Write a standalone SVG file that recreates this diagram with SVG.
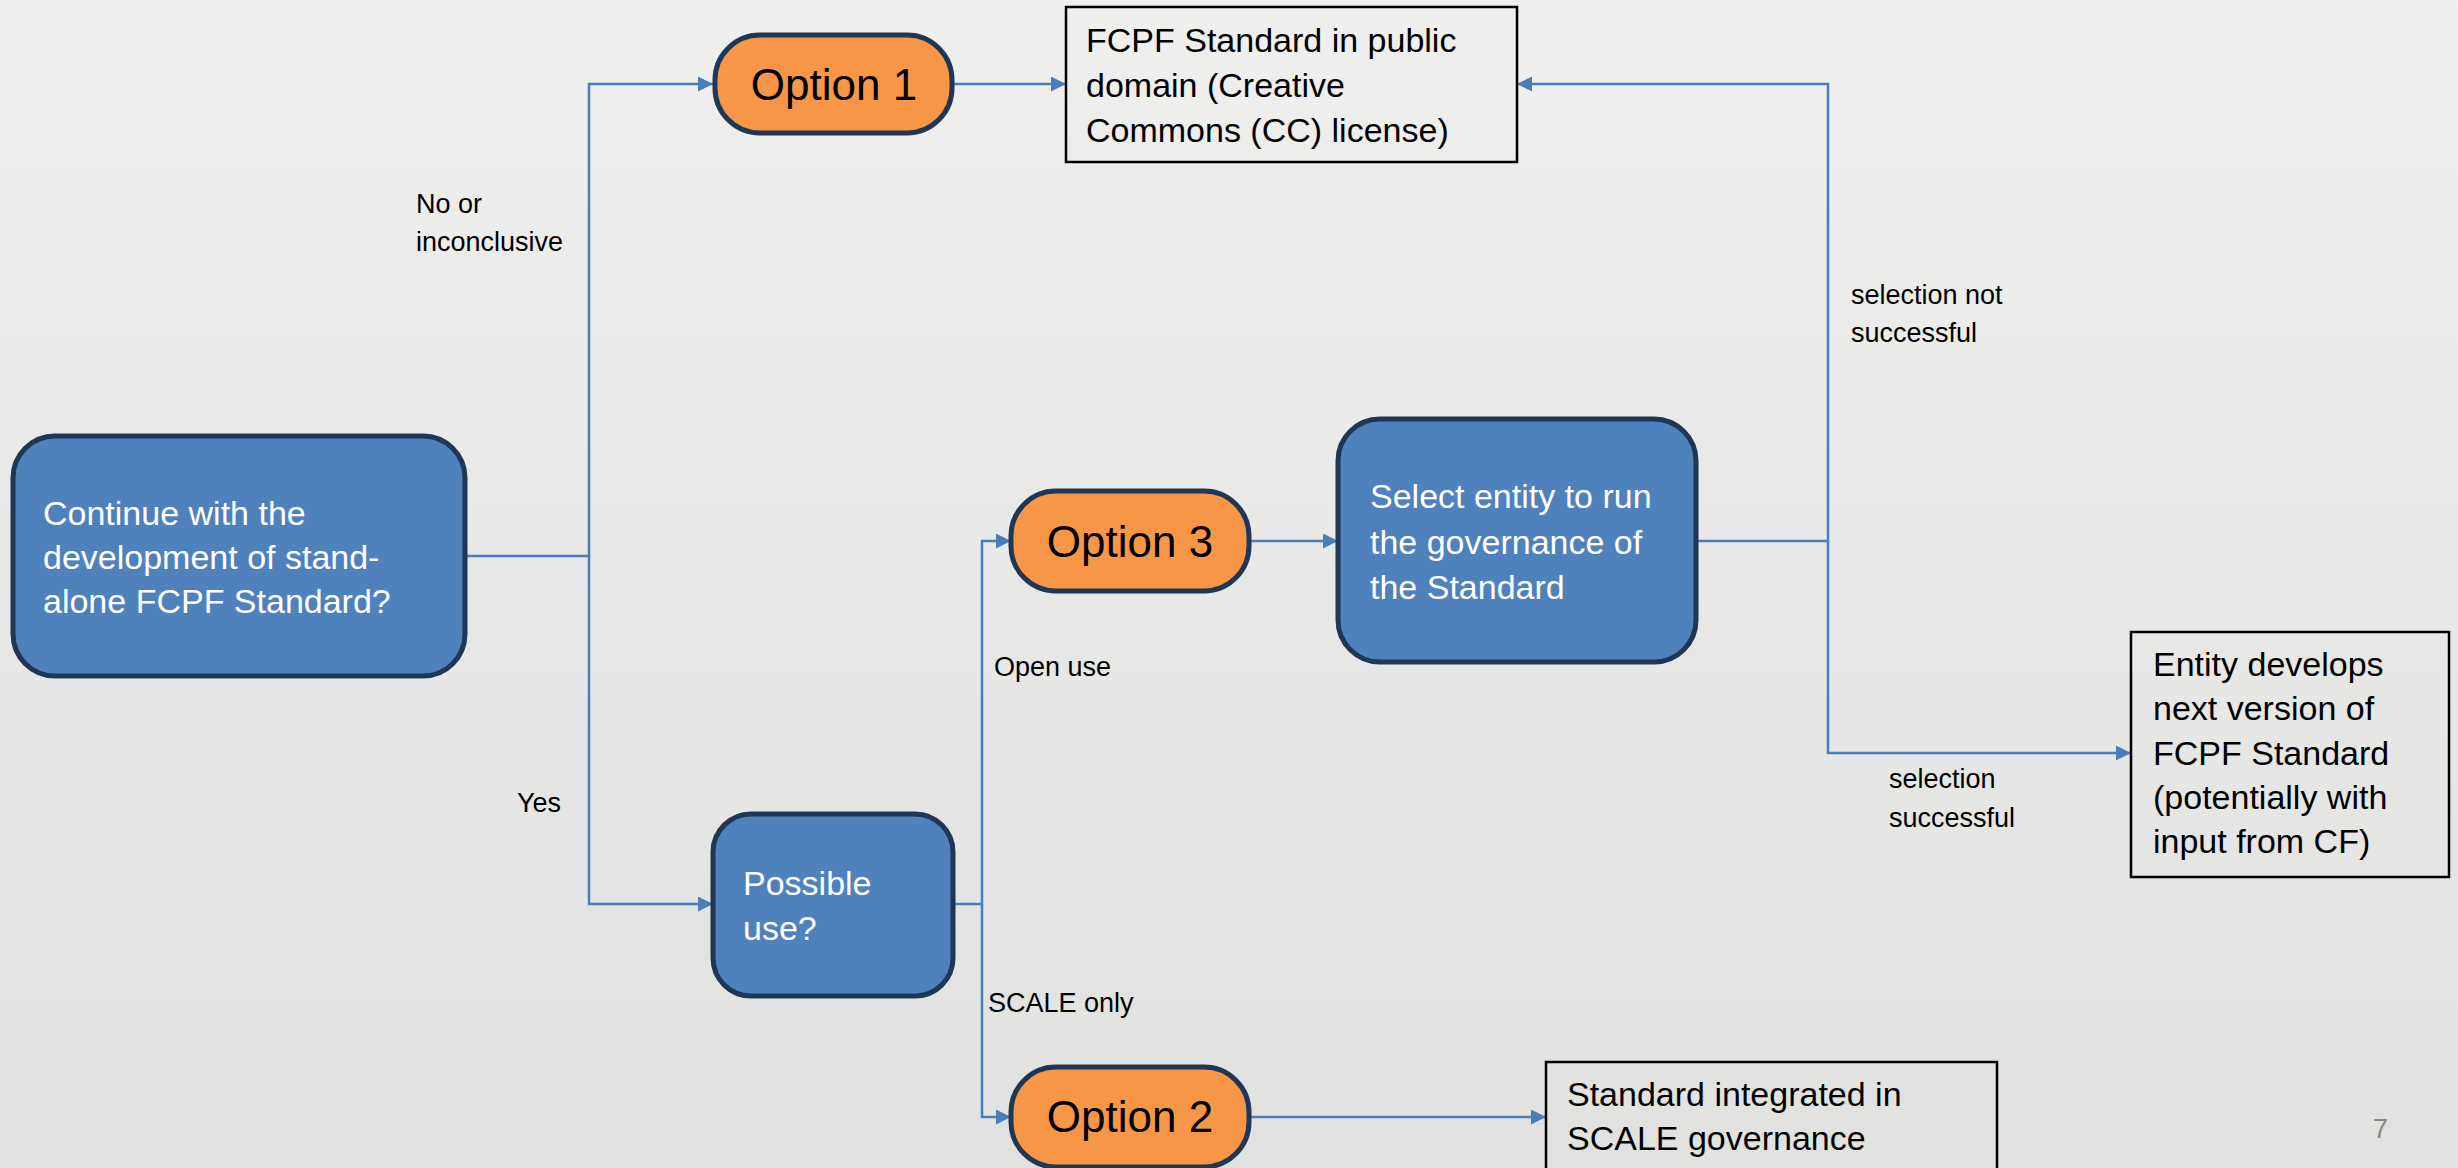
<svg xmlns="http://www.w3.org/2000/svg" width="2458" height="1168" viewBox="0 0 2458 1168">
<defs>
<linearGradient id="bg" x1="0" y1="0" x2="0" y2="1">
<stop offset="0" stop-color="#efefee"/>
<stop offset="0.5" stop-color="#e8e8e7"/>
<stop offset="1" stop-color="#e1e2e0"/>
</linearGradient>
<marker id="arr" markerUnits="userSpaceOnUse" markerWidth="16" markerHeight="16" refX="15" refY="7.5" orient="auto">
<path d="M0,0 L15,7.5 L0,15 z" fill="#4a7ebb"/>
</marker>
<style>
.blue{fill:#4f81bd;stroke:#1f3654;stroke-width:5}
.orange{fill:#f79646;stroke:#1f3654;stroke-width:5}
.box{fill:none;stroke:#000;stroke-width:2.5}
.conn{fill:none;stroke:#4a7ebb;stroke-width:2.5}
.wt{font-family:"Liberation Sans",Arial,sans-serif;font-size:34px;fill:#fff}
.bt{font-family:"Liberation Sans",Arial,sans-serif;font-size:34px;fill:#000}
.ot{font-family:"Liberation Sans",Arial,sans-serif;font-size:44px;fill:#000;text-anchor:middle}
.lb{font-family:"Liberation Sans",Arial,sans-serif;font-size:27px;fill:#000}
</style>
</defs>
<rect x="0" y="0" width="2458" height="1168" fill="url(#bg)"/>
<g id="connectors">
<path class="conn" d="M465,556 H589 V84 H713" marker-end="url(#arr)"/>
<path class="conn" d="M589,556 V904 H713" marker-end="url(#arr)"/>
<path class="conn" d="M953,84 H1066" marker-end="url(#arr)"/>
<path class="conn" d="M953,904 H982 V541 H1011" marker-end="url(#arr)"/>
<path class="conn" d="M982,904 V1117 H1011" marker-end="url(#arr)"/>
<path class="conn" d="M1249,541 H1338" marker-end="url(#arr)"/>
<path class="conn" d="M1696,541 H1828 V84 H1517" marker-end="url(#arr)"/>
<path class="conn" d="M1828,541 V753 H2131" marker-end="url(#arr)"/>
<path class="conn" d="M1249,1117 H1546" marker-end="url(#arr)"/>
</g>
<g id="labels">
<text class="lb" x="416" y="213">No or</text>
<text class="lb" x="416" y="251">inconclusive</text>
<text class="lb" x="517" y="812">Yes</text>
<text class="lb" x="994" y="676">Open use</text>
<text class="lb" x="988" y="1012">SCALE only</text>
<text class="lb" x="1851" y="304">selection not</text>
<text class="lb" x="1851" y="342">successful</text>
<text class="lb" x="1889" y="788">selection</text>
<text class="lb" x="1889" y="827">successful</text>
</g>
<g id="node-continue">
<rect class="blue" x="13" y="436" width="452" height="240" rx="42"/>
<text class="wt" x="43" y="525">Continue with the</text>
<text class="wt" x="43" y="569">development of stand-</text>
<text class="wt" x="43" y="613">alone FCPF Standard?</text>
</g>
<g id="node-option1">
<rect class="orange" x="715" y="35" width="237" height="98" rx="45"/>
<text class="ot" x="834" y="100">Option 1</text>
</g>
<g id="node-fcpf-public">
<rect class="box" x="1066" y="7" width="451" height="155"/>
<text class="bt" x="1086" y="52">FCPF Standard in public</text>
<text class="bt" x="1086" y="97">domain (Creative</text>
<text class="bt" x="1086" y="142">Commons (CC) license)</text>
</g>
<g id="node-possible">
<rect class="blue" x="713" y="814" width="240" height="182" rx="38"/>
<text class="wt" x="743" y="895">Possible</text>
<text class="wt" x="743" y="940">use?</text>
</g>
<g id="node-option3">
<rect class="orange" x="1011" y="491" width="238" height="100" rx="45"/>
<text class="ot" x="1130" y="557">Option 3</text>
</g>
<g id="node-select">
<rect class="blue" x="1338" y="419" width="358" height="243" rx="42"/>
<text class="wt" x="1370" y="508">Select entity to run</text>
<text class="wt" x="1370" y="554">the governance of</text>
<text class="wt" x="1370" y="599">the Standard</text>
</g>
<g id="node-entity">
<rect class="box" x="2131" y="632" width="318" height="245"/>
<text class="bt" x="2153" y="676">Entity develops</text>
<text class="bt" x="2153" y="720">next version of</text>
<text class="bt" x="2153" y="765">FCPF Standard</text>
<text class="bt" x="2153" y="809">(potentially with</text>
<text class="bt" x="2153" y="853">input from CF)</text>
</g>
<g id="node-option2">
<rect class="orange" x="1011" y="1067" width="238" height="100" rx="45"/>
<text class="ot" x="1130" y="1132">Option 2</text>
</g>
<g id="node-scale">
<rect class="box" x="1546" y="1062" width="451" height="150"/>
<text class="bt" x="1567" y="1106">Standard integrated in</text>
<text class="bt" x="1567" y="1150">SCALE governance</text>
</g>
<text x="2373" y="1138" font-family="'Liberation Sans',Arial,sans-serif" font-size="27" fill="#888">7</text>
</svg>
